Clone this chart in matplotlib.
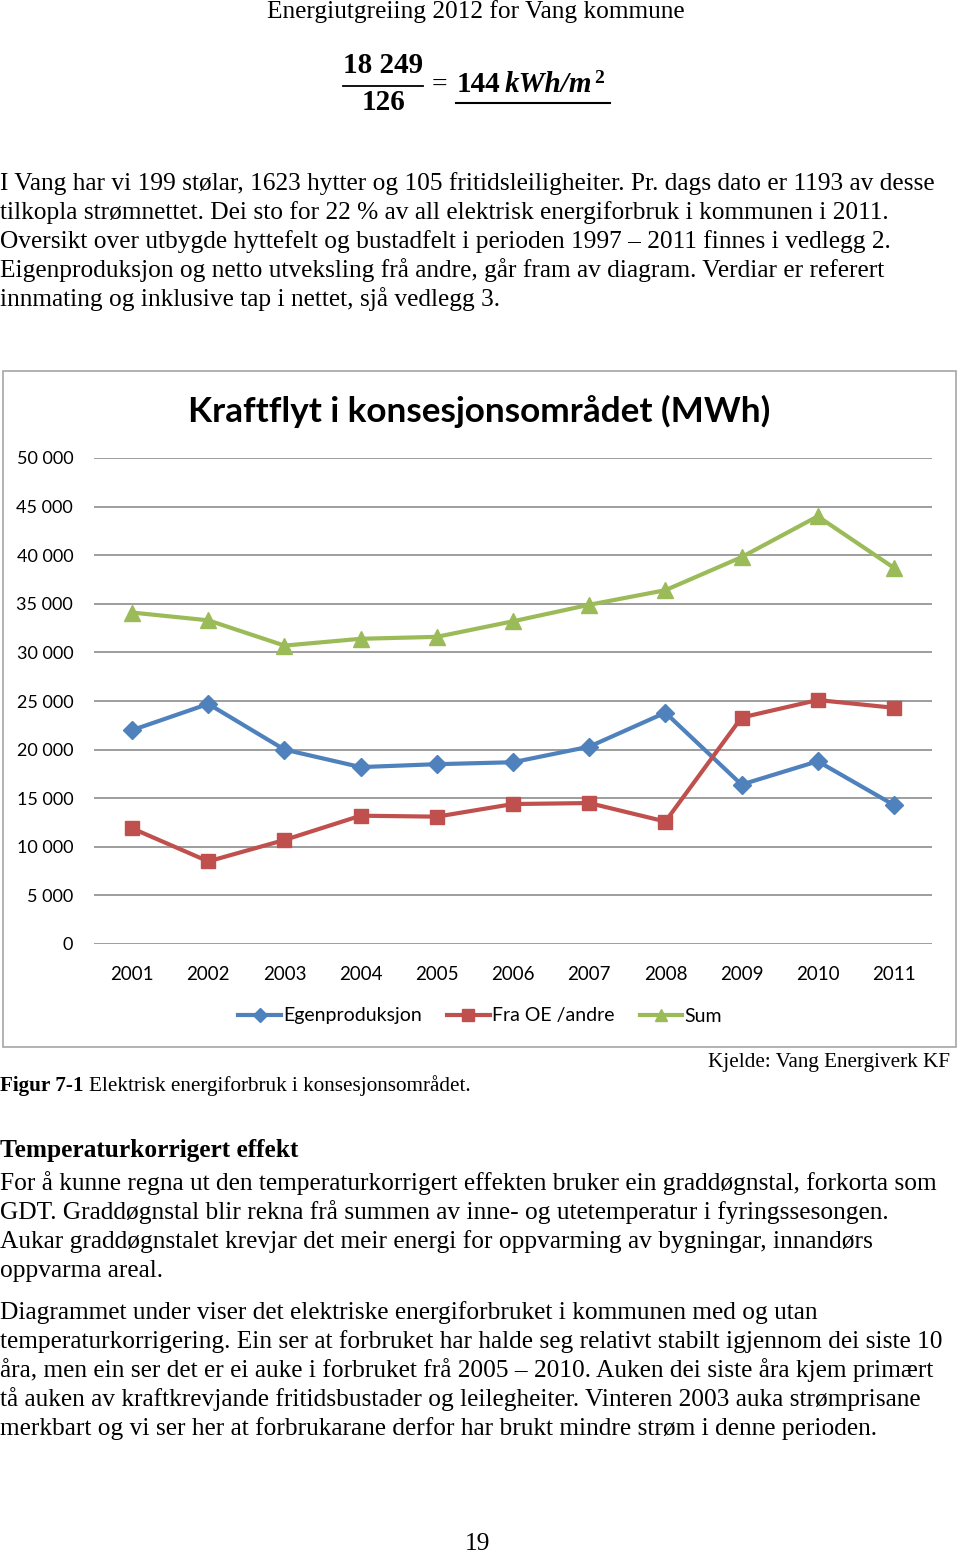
import matplotlib
matplotlib.use("Agg")
import matplotlib.pyplot as plt
from matplotlib.lines import Line2D
from matplotlib.patches import Rectangle

W, H = 960, 1553

years = ["2001", "2002", "2003", "2004", "2005", "2006", "2007", "2008", "2009", "2010", "2011"]
egenproduksjon = [22000, 24700, 20000, 18200, 18500, 18700, 20300, 23800, 16400, 18800, 14300]
fra_oe = [11900, 8500, 10700, 13200, 13100, 14400, 14500, 12600, 23300, 25100, 24300]
sum_mwh = [34100, 33300, 30700, 31400, 31600, 33200, 34900, 36400, 39800, 44000, 38700]
y_ticks = [0, 5000, 10000, 15000, 20000, 25000, 30000, 35000, 40000, 45000, 50000]

body1 = [
    "I Vang har vi 199 stølar, 1623 hytter og 105 fritidsleiligheiter. Pr. dags dato er 1193 av desse",
    "tilkopla strømnettet. Dei sto for 22 % av all elektrisk energiforbruk i kommunen i 2011.",
    "Oversikt over utbygde hyttefelt og bustadfelt i perioden 1997 \u2013 2011 finnes i vedlegg 2.",
    "Eigenproduksjon og netto utveksling frå andre, går fram av diagram. Verdiar er referert",
    "innmating og inklusive tap i nettet, sjå vedlegg 3.",
]
body2 = [
    "For å kunne regna ut den temperaturkorrigert effekten bruker ein graddøgnstal, forkorta som",
    "GDT. Graddøgnstal blir rekna frå summen av inne- og utetemperatur i fyringssesongen.",
    "Aukar graddøgnstalet krevjar det meir energi for oppvarming av bygningar, innandørs",
    "oppvarma areal.",
]
body3 = [
    "Diagrammet under viser det elektriske energiforbruket i kommunen med og utan",
    "temperaturkorrigering. Ein ser at forbruket har halde seg relativt stabilt igjennom dei siste 10",
    "åra, men ein ser det er ei auke i forbruket frå 2005 \u2013 2010. Auken dei siste åra kjem primært",
    "tå auken av kraftkrevjande fritidsbustader og leilegheiter. Vinteren 2003 auka strømprisane",
    "merkbart og vi ser her at forbrukarane derfor har brukt mindre strøm i denne perioden.",
]

serif = "Liberation Serif"
chartfont = "Lato"
blue, red, green = "#4F81BD", "#C0504D", "#9BBB59"


def fx(x):
    return x / W


def fy(y):
    return 1 - y / H


fig = plt.figure(figsize=(W / 100, H / 100), dpi=100)
fs = 18.3


def put(x, y, s, **kw):
    kw.setdefault("family", serif)
    kw.setdefault("fontsize", fs)
    kw.setdefault("va", "baseline")
    fig.text(fx(x), fy(y), s, **kw)


put(476, 18, "Energiutgreiing 2012 for Vang kommune", ha="center")

# formula
put(383, 73, "18 249", ha="center", weight="bold", fontsize=21)
put(383, 110, "126", ha="center", weight="bold", fontsize=21)
fig.add_artist(Line2D([fx(343), fx(423)], [fy(86), fy(86)], color="black", lw=1.3))
put(439, 92, "=", ha="center", fontsize=20)
put(457, 92, "144", ha="left", weight="bold", fontsize=21)
put(505, 92, "kWh/m", ha="left", weight="bold", style="italic", fontsize=21)
put(594, 83, "2", ha="left", weight="bold", fontsize=14)
fig.add_artist(Line2D([fx(456), fx(610)], [fy(103), fy(103)], color="black", lw=1.5))

for i, line in enumerate(body1):
    put(0, 190 + i * 29, line)

# chart frame
fig.add_artist(Rectangle((fx(3), fy(1047)), fx(956) - fx(3), fy(371) - fy(1047),
                         transform=fig.transFigure, fill=False, edgecolor="#A6A6A6", lw=1.2))
fig.text(fx(479), fy(411), "Kraftflyt i konsesjonsområdet (MWh)", ha="center", va="center",
         family=chartfont, weight="bold", fontsize=25.3)

ax = fig.add_axes([fx(94), fy(944), fx(932) - fx(94), fy(458) - fy(944)])
x = list(range(len(years)))
ax.plot(x, egenproduksjon, color=blue, lw=3, marker="D", ms=9, label="Egenproduksjon")
ax.plot(x, fra_oe, color=red, lw=3, marker="s", ms=10, label="Fra OE /andre")
ax.plot(x, sum_mwh, color=green, lw=3, marker="^", ms=11, label="Sum")
ax.set_xlim(-0.5, len(years) - 0.5)
ax.set_ylim(0, 50000)
ax.set_yticks(y_ticks)
ax.set_yticklabels([f"{v:,}".replace(",", " ") for v in y_ticks], family=chartfont, fontsize=13)
ax.set_xticks(x)
ax.set_xticklabels(years, family=chartfont, fontsize=13.5)
ax.tick_params(length=0, axis="y", pad=15)
ax.tick_params(length=0, axis="x", pad=16)
ax.grid(axis="y", color="#8C8C8C", lw=1.2)
ax.set_axisbelow(True)
for s in ax.spines.values():
    s.set_visible(False)

fig.legend(loc="center", bbox_to_anchor=(0.5, fy(1016)), ncol=3, frameon=False,
           prop={"family": chartfont, "size": 14}, handlelength=2.2, columnspacing=1.3,
           handletextpad=0.1, markerscale=0.8)

put(950, 1067, "Kjelde: Vang Energiverk KF", ha="right", fontsize=15.2)
put(0, 1091, "Figur 7-1", weight="bold", fontsize=15.2)
put(89, 1091, "Elektrisk energiforbruk i konsesjonsområdet.", fontsize=15.2)

put(0, 1157, "Temperaturkorrigert effekt", weight="bold")
for i, line in enumerate(body2):
    put(0, 1190 + i * 29, line)
for i, line in enumerate(body3):
    put(0, 1319 + i * 29, line)

put(477, 1550, "19", ha="center")

fig.savefig("out.png", dpi=100)
